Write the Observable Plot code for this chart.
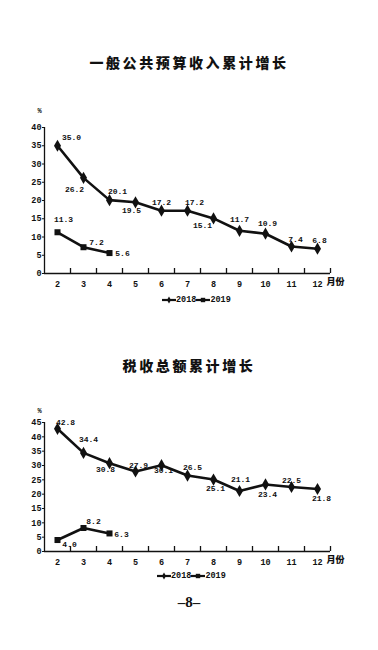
<!DOCTYPE html>
<html><head><meta charset="utf-8">
<script src="https://cdn.jsdelivr.net/npm/d3@7"></script>
<script src="https://cdn.jsdelivr.net/npm/@observablehq/plot@0.6"></script>
<style>
body{margin:0;background:#fff;}
#page{position:relative;width:378px;height:650px;overflow:hidden;font-family:"Liberation Mono",monospace;color:#111;}
.title{position:absolute;left:0;width:378px;text-align:center;font-family:"Noto Sans CJK SC";font-weight:900;font-size:14px;letter-spacing:2.6px;line-height:16px;}
.chart{position:absolute;left:0;}
.legend{position:absolute;font-family:"Liberation Mono",monospace;font-weight:bold;font-size:8.5px;line-height:10px;white-space:nowrap;display:flex;align-items:center;}
.legend svg{display:block;}
.pageno{position:absolute;left:0;width:378px;text-align:center;top:594px;font-family:"Liberation Serif",serif;font-weight:bold;font-size:15px;}
</style>
</head><body>
<div id="page">
  <div class="title" id="t1" style="top:54px"></div>
  <div class="chart" id="c1" style="top:100px"></div>
  <div class="legend" id="l1" style="top:295px;left:162px"></div>
  <div class="title" id="t2" style="top:357px"></div>
  <div class="chart" id="c2" style="top:390px"></div>
  <div class="legend" id="l2" style="top:571px;left:157px"></div>
  <div class="pageno">–8–</div>
</div>
<script>
// ---- data ----
const titles = ["一般公共预算收入累计增长", "税收总额累计增长"];
const seriesNames = ["2018", "2019"];
const months = [2, 3, 4, 5, 6, 7, 8, 9, 10, 11, 12];
const months2019 = [2, 3, 4];
const revenue2018 = [35.0, 26.2, 20.1, 19.5, 17.2, 17.2, 15.1, 11.7, 10.9, 7.4, 6.8];
const revenue2019 = [11.3, 7.2, 5.6];
const tax2018 = [42.8, 34.4, 30.8, 27.9, 30.1, 26.5, 25.1, 21.1, 23.4, 22.5, 21.8];
const tax2019 = [4.0, 8.2, 6.3];
const yTicks1 = [0, 5, 10, 15, 20, 25, 30, 35, 40];
const yTicks2 = [0, 5, 10, 15, 20, 25, 30, 35, 40, 45];
const unitLabel = "%";
const monthUnit = "月份";

// ---- label placement (layout only, pixel offsets) ----
const off1_2018 = [[14,-8],[-9,12],[8,-9],[-4,8],[0,-8],[7,-8],[-11,7],[0,-11],[2,-10],[4,-7],[2,-8]];
const off1_2019 = [[6,-13],[13,-5],[13,0]];
const off2_2018 = [[8,-6],[5,-13],[-4,6],[3,-6],[2,5],[5,-8],[2,9],[1,-12],[2,10],[0,-7],[4,9]];
const off2_2019 = [[12,4],[10,-7],[12,1]];

function makeChart({s18, s19, yMax, yTicks, marginTop, marginBottom, off18, off19, pctDy}) {
  const height = marginTop + (yMax === 40 ? 146 : 129) + marginBottom;
  const bounds = months.map(m => m + 0.5);
  const labelMarks = [];
  s18.forEach((v, i) => labelMarks.push(Plot.text([i], {x: i => months[i], y: i => s18[i], text: i => s18[i].toFixed(1), dx: off18[i][0], dy: off18[i][1], fontWeight: "bold", fontSize: 8})));
  s19.forEach((v, i) => labelMarks.push(Plot.text([i], {x: i => months2019[i], y: i => s19[i], text: i => s19[i].toFixed(1), dx: off19[i][0], dy: off19[i][1], fontWeight: "bold", fontSize: 8})));
  return Plot.plot({
    width: 378,
    height,
    marginTop,
    marginBottom,
    marginLeft: 44,
    marginRight: 48,
    style: {fontFamily: "'Liberation Mono', monospace", fontWeight: "bold", fontSize: "8px", color: "#111", background: "transparent"},
    x: {type: "linear", domain: [1.5, 12.5]},
    y: {domain: [0, yMax]},
    marks: [
      Plot.ruleX([1.5], {stroke: "#111", strokeWidth: 1.3}),
      Plot.ruleY([0], {stroke: "#111", strokeWidth: 1.3}),
      Plot.ruleX(bounds, {x: d => d, y1: 0, y2: 0, insetTop: -5, stroke: "#111", strokeWidth: 1.3}),
      Plot.axisY({ticks: yTicks, tickSize: 2, tickPadding: 1, tickFormat: d => String(d), label: null, fontWeight: "bold", fontSize: 8.5}),
      Plot.axisX({ticks: months, tickSize: 0, tickPadding: 7, tickFormat: d => String(d), label: null, fontWeight: "bold", fontSize: 8.5}),
      Plot.text([monthUnit], {x: 12, text: d => d, frameAnchor: "bottom", dx: 9, dy: 11, textAnchor: "start", fontFamily: "'Noto Sans CJK SC'", fontWeight: 900, fontSize: 9}),
      Plot.text([unitLabel], {text: d => d, frameAnchor: "top-left", dx: -7, dy: pctDy, fontWeight: "bold", fontSize: 7}),
      Plot.line(months.map((m, i) => ({m, v: s18[i]})), {x: "m", y: "v", stroke: "#111", strokeWidth: 2.6, strokeLinejoin: "round"}),
      Plot.dot(months.map((m, i) => ({m, v: s18[i]})), {x: "m", y: "v", symbol: "diamond", r: 3.7, fill: "#111", stroke: "none"}),
      Plot.line(months2019.map((m, i) => ({m, v: s19[i]})), {x: "m", y: "v", stroke: "#111", strokeWidth: 2.6, strokeLinejoin: "round"}),
      Plot.dot(months2019.map((m, i) => ({m, v: s19[i]})), {x: "m", y: "v", symbol: "square", r: 3.4, fill: "#111", stroke: "none"}),
      ...labelMarks
    ]
  });
}

document.getElementById("t1").textContent = titles[0];
document.getElementById("t2").textContent = titles[1];
document.getElementById("c1").appendChild(makeChart({s18: revenue2018, s19: revenue2019, yMax: 40, yTicks: yTicks1, marginTop: 27, marginBottom: 28, off18: off1_2018, off19: off1_2019, pctDy: -19}));
document.getElementById("c2").appendChild(makeChart({s18: tax2018, s19: tax2019, yMax: 45, yTicks: yTicks2, marginTop: 32, marginBottom: 28, off18: off2_2018, off19: off2_2019, pctDy: -14}));

function swatch(sym) {
  const marker = sym === "diamond"
    ? '<path d="M7,1.5 L9,5 L7,8.5 L5,5 Z" fill="#111"/>'
    : '<rect x="4.8" y="2.8" width="4.4" height="4.4" fill="#111"/>';
  return '<svg width="14" height="10"><line x1="0" y1="5" x2="14" y2="5" stroke="#111" stroke-width="2.2"/>' + marker + '</svg>';
}
function legend(id) {
  document.getElementById(id).innerHTML =
    swatch("diamond") + '<span>' + seriesNames[0] + '</span>' + swatch("square") + '<span>' + seriesNames[1] + '</span>';
}
legend("l1"); legend("l2");
</script>
</body></html>
